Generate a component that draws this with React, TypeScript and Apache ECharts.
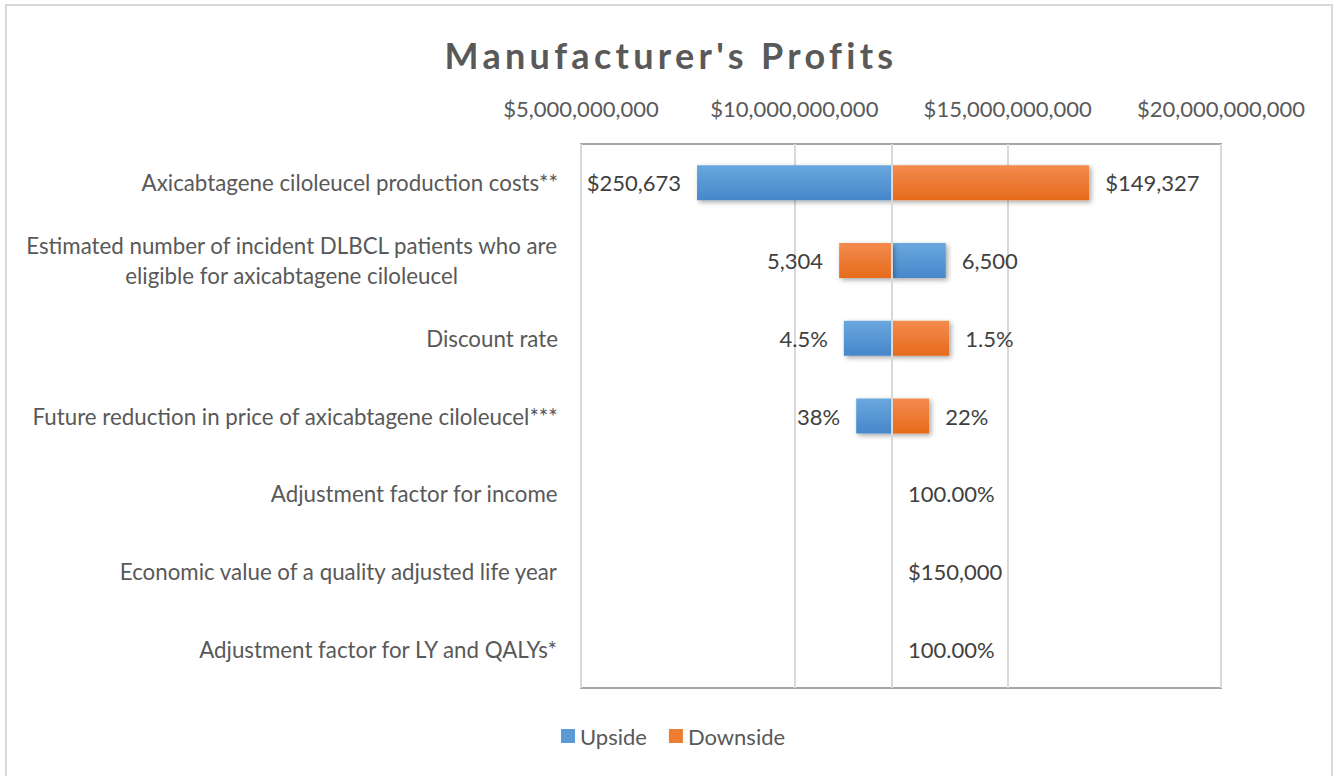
import React, { useEffect, useRef } from "react";
import * as echarts from "echarts";

const categories = [
  "Axicabtagene ciloleucel production costs**",
  "Estimated number of incident DLBCL patients who are\neligible for axicabtagene ciloleucel",
  "Discount rate",
  "Future reduction in price of axicabtagene ciloleucel***",
  "Adjustment factor for income",
  "Economic value of a quality adjusted life year",
  "Adjustment factor for LY and QALYs*",
];
const baseValue = 12.29e9;
const upsideValues = [7.72e9, 13.55e9, 11.16e9, 11.45e9, 12.29e9, 12.29e9, 12.29e9];
const downsideValues = [16.91e9, 11.05e9, 13.63e9, 13.16e9, 12.29e9, 12.29e9, 12.29e9];
const upsideLabels = ["$250,673", "6,500", "4.5%", "38%", "", "", ""];
const downsideLabels = ["$149,327", "5,304", "1.5%", "22%", "100.00%", "$150,000", "100.00%"];
const xTicks = { min: 5e9, max: 20e9, interval: 5e9 };
const TITLE = "Manufacturer's Profits";

const FONT = "Lato";
const FS = 22;

function makeSeries(name: string, values: number[], labels: string[], top: string, bottom: string, legendColor: string) {
  return {
    type: "custom",
    name,
    itemStyle: { color: legendColor },
    encode: { x: 0, y: 1 },
    data: values.map((v, i) => [v, i]),
    renderItem: (params: any, api: any) => {
      const v = api.value(0);
      const cat = api.value(1);
      const p0 = api.coord([baseValue, cat]);
      const p1 = api.coord([v, cat]);
      const h = api.size([0, 1])[1] * 0.45;
      const x = Math.min(p0[0], p1[0]);
      const w = Math.abs(p1[0] - p0[0]);
      const left = v < baseValue;
      const label = labels[params.dataIndex];
      const children: any[] = [];
      if (w > 0.5) {
        children.push({
          type: "rect",
          shape: { x, y: p0[1] - h / 2, width: w, height: h },
          style: {
            fill: new echarts.graphic.LinearGradient(0, 0, 0, 1, [
              { offset: 0, color: top },
              { offset: 1, color: bottom },
            ]),
            shadowBlur: 5,
            shadowOffsetX: 2,
            shadowOffsetY: 2,
            shadowColor: "rgba(0,0,0,0.35)",
          },
        });
      }
      if (label) {
        children.push({
          type: "text",
          x: left ? p1[0] - 16 : p1[0] + 16,
          y: p0[1],
          style: {
            text: label,
            fill: "#404040",
            fontSize: FS,
            fontFamily: FONT,
            align: left ? "right" : "left",
            verticalAlign: "middle",
          },
        });
      }
      return { type: "group", children };
    },
  };
}

export default function App() {
  const ref = useRef<HTMLDivElement>(null);
  useEffect(() => {
    const chart = echarts.init(ref.current!, null, { renderer: "svg" });
    chart.setOption({
      animation: false,
      backgroundColor: "#ffffff",
      textStyle: { fontFamily: FONT },
      legend: {
        data: ["Upside", "Downside"],
        bottom: 24,
        left: 556,
        icon: "rect",
        itemWidth: 14,
        itemHeight: 14,
        itemGap: 22,
        textStyle: { fontSize: FS, color: "#595959", fontFamily: FONT },
      },
      graphic: [
        {
          type: "rect",
          shape: { x: 6, y: 5, width: 1326, height: 780 },
          style: { fill: "none", stroke: "#d9d9d9", lineWidth: 2 },
          silent: true,
        },
        {
          type: "text",
          x: 671,
          y: 55,
          silent: true,
          style: {
            text: TITLE,
            align: "center",
            verticalAlign: "middle",
            fill: "#595959",
            fontSize: 36,
            fontWeight: "bold",
            fontFamily: FONT,
          },
        },
      ],
      grid: {
        left: 581,
        right: 117,
        top: 144,
        bottom: 88,
        show: true,
        borderColor: "#a6a6a6",
        borderWidth: 2,
        backgroundColor: "transparent",
      },
      xAxis: {
        type: "value",
        position: "top",
        min: xTicks.min,
        max: xTicks.max,
        interval: xTicks.interval,
        axisLine: { show: false },
        axisTick: { show: false },
        splitLine: { show: true, lineStyle: { color: "#d9d9d9", width: 2 } },
        axisLabel: {
          margin: 25,
          fontSize: FS,
          color: "#595959",
          fontFamily: FONT,
          formatter: (v: number) => "$" + v.toLocaleString("en-US"),
        },
      },
      yAxis: {
        type: "category",
        inverse: true,
        data: categories,
        axisLine: { show: false },
        axisTick: { show: false },
        axisLabel: {
          margin: 23,
          fontSize: FS,
          color: "#595959",
          fontFamily: FONT,
          lineHeight: 30,
          formatter: (v: string) => v.split("\n").map((s) => "{c|" + s + "}").join("\n"),
          rich: { c: { align: "center", fontSize: 22.3, color: "#595959", fontFamily: FONT, lineHeight: 30 } },
        },
      },
      series: [
        makeSeries("Upside", upsideValues, upsideLabels, "#6aa7de", "#4687cb", "#5b9bd5"),
        {
          ...makeSeries("Downside", downsideValues, downsideLabels, "#f38b4f", "#e66b1b", "#ed7d31"),
          markLine: {
            silent: true,
            symbol: "none",
            label: { show: false },
            lineStyle: { color: "#d9d9d9", width: 2, type: "solid" },
            data: [{ xAxis: baseValue }],
          },
        },
      ],
    });
    // Excel-style expanded character spacing for the title
    const texts = ref.current!.querySelectorAll("text");
    texts.forEach((t) => {
      if (t.textContent === TITLE) {
        (t as SVGTextElement).style.letterSpacing = "4.3px";
      }
    });
    return () => chart.dispose();
  }, []);
  return <div ref={ref} style={{ position: "absolute", left: 0, top: 0, width: 1338, height: 776 }} />;
}
